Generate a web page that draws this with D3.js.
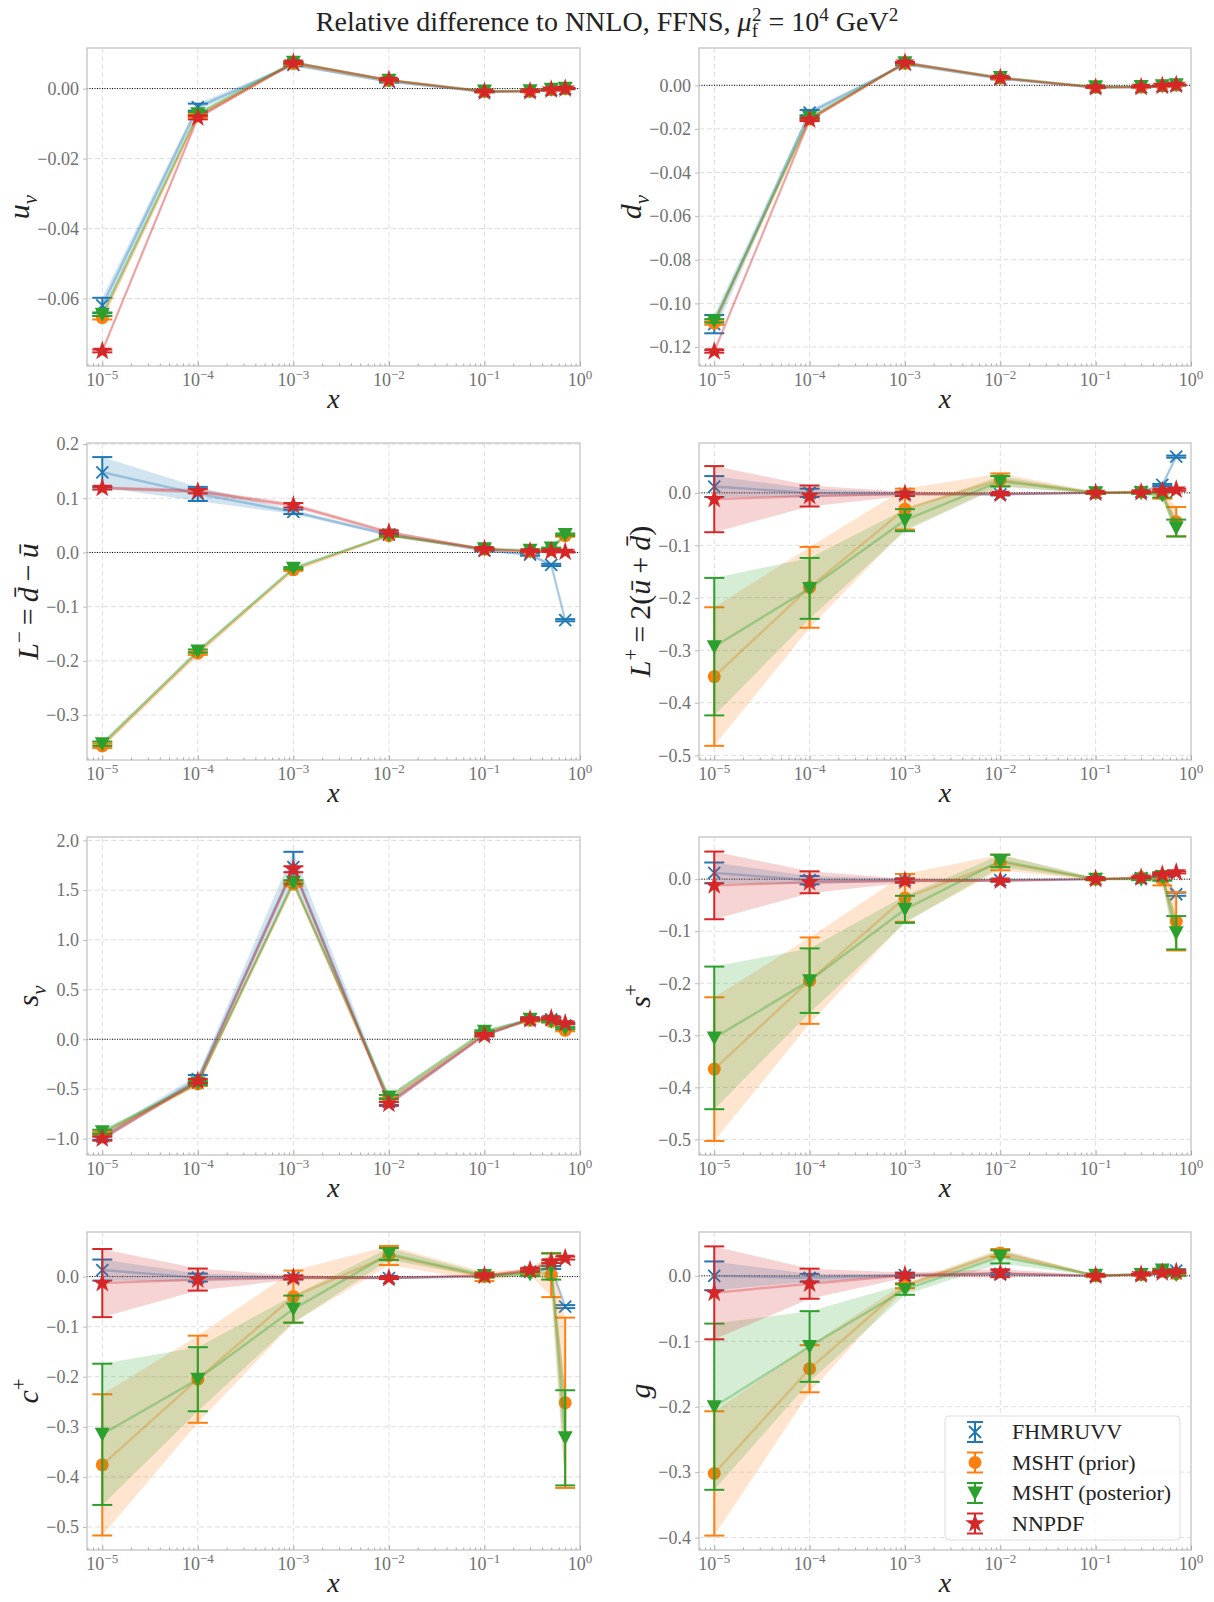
<!DOCTYPE html>
<html>
<head>
<meta charset="utf-8">
<script src="https://cdn.jsdelivr.net/npm/d3@7"></script>
<style>
body { margin: 0; background: #fff; }
svg text { font-family: "Liberation Serif", "DejaVu Serif", serif; }
</style>
</head>
<body>
<script>
// x grid shared by all panels
const xVals = [1e-5, 1e-4, 1e-3, 1e-2, 0.1, 0.3, 0.5, 0.7];
const xMajor = [1e-5, 1e-4, 1e-3, 1e-2, 1e-1, 1];
const xExp = ["−5", "−4", "−3", "−2", "−1", "0"];

const seriesNames = ["FHMRUVV", "MSHT (prior)", "MSHT (posterior)", "NNPDF"];
const seriesColors = ["#1f77b4", "#ff7f0e", "#2ca02c", "#d62728"];
const seriesMarkers = ["x", "o", "v", "*"];

// u_v
const uvFhm = [-0.0620, -0.0053, 0.0068, 0.0020, -0.0009, -0.0008, -0.0004, 0.0000];
const uvFhmErr = [0.0022, 0.0010, 0.0004, 0.0003, 0.0002, 0.0002, 0.0002, 0.0002];
const uvPrior = [-0.0655, -0.0078, 0.0071, 0.0023, -0.0008, -0.0008, -0.0003, 0.0000];
const uvPriorErr = [0.0005, 0.0005, 0.0003, 0.0002, 0.0001, 0.0001, 0.0001, 0.0001];
const uvPost = [-0.0645, -0.0072, 0.0075, 0.0024, -0.0007, -0.0006, -0.0002, 0.0001];
const uvPostErr = [0.0005, 0.0005, 0.0003, 0.0002, 0.0001, 0.0001, 0.0001, 0.0001];
const uvNnpdf = [-0.0750, -0.0083, 0.0074, 0.0025, -0.0009, -0.0008, -0.0003, 0.0000];
const uvNnpdfErr = [0.0004, 0.0005, 0.0003, 0.0002, 0.0001, 0.0001, 0.0001, 0.0001];

// d_v
const dvFhm = [-0.1095, -0.0125, 0.0097, 0.0030, -0.0010, -0.0008, -0.0004, 0.0000];
const dvFhmErr = [0.0042, 0.0012, 0.0005, 0.0003, 0.0002, 0.0002, 0.0002, 0.0002];
const dvPrior = [-0.1090, -0.0155, 0.0100, 0.0033, -0.0009, -0.0008, -0.0003, 0.0001];
const dvPriorErr = [0.0008, 0.0006, 0.0003, 0.0002, 0.0001, 0.0001, 0.0001, 0.0001];
const dvPost = [-0.1080, -0.0148, 0.0103, 0.0036, -0.0007, -0.0006, -0.0002, 0.0002];
const dvPostErr = [0.0008, 0.0006, 0.0003, 0.0002, 0.0001, 0.0001, 0.0001, 0.0001];
const dvNnpdf = [-0.1220, -0.0158, 0.0104, 0.0034, -0.0010, -0.0008, -0.0003, 0.0002];
const dvNnpdfErr = [0.0006, 0.0006, 0.0003, 0.0002, 0.0001, 0.0001, 0.0001, 0.0001];

// L^- = dbar - ubar
const lmFhm = [0.148, 0.108, 0.075, 0.033, 0.004, -0.004, -0.023, -0.125];
const lmFhmErr = [0.028, 0.013, 0.004, 0.003, 0.002, 0.002, 0.002, 0.002];
const lmPrior = [-0.357, -0.186, -0.032, 0.031, 0.006, 0.002, 0.005, 0.031];
const lmPriorErr = [0.004, 0.003, 0.002, 0.002, 0.001, 0.001, 0.001, 0.002];
const lmPost = [-0.353, -0.182, -0.029, 0.032, 0.007, 0.004, 0.008, 0.033];
const lmPostErr = [0.004, 0.003, 0.002, 0.002, 0.001, 0.001, 0.001, 0.002];
const lmNnpdf = [0.119, 0.113, 0.087, 0.037, 0.006, 0.002, 0.002, 0.001];
const lmNnpdfErr = [0.003, 0.004, 0.004, 0.003, 0.002, 0.001, 0.001, 0.001];

// L^+ = 2(ubar + dbar)
const lpFhm = [0.012, 0.000, -0.002, -0.003, 0.000, 0.002, 0.015, 0.069];
const lpFhmErr = [0.020, 0.008, 0.003, 0.002, 0.001, 0.001, 0.002, 0.002];
const lpPrior = [-0.350, -0.180, -0.031, 0.025, 0.000, 0.002, -0.002, -0.055];
const lpPriorErr = [0.132, 0.077, 0.039, 0.012, 0.002, 0.002, 0.009, 0.028];
const lpPost = [-0.293, -0.182, -0.052, 0.022, 0.000, 0.000, -0.004, -0.067];
const lpPostErr = [0.131, 0.058, 0.021, 0.010, 0.002, 0.002, 0.005, 0.016];
const lpNnpdf = [-0.012, -0.006, -0.002, -0.002, 0.000, 0.001, 0.004, 0.006];
const lpNnpdfErr = [0.063, 0.020, 0.004, 0.002, 0.001, 0.001, 0.002, 0.002];

// s_v
const svFhm = [-0.98, -0.40, 1.73, -0.63, 0.05, 0.20, 0.20, 0.14];
const svFhmErr = [0.03, 0.04, 0.155, 0.03, 0.02, 0.02, 0.02, 0.02];
const svPrior = [-0.95, -0.45, 1.56, -0.61, 0.06, 0.19, 0.18, 0.09];
const svPriorErr = [0.02, 0.02, 0.02, 0.02, 0.01, 0.01, 0.01, 0.01];
const svPost = [-0.93, -0.44, 1.58, -0.58, 0.08, 0.20, 0.18, 0.11];
const svPostErr = [0.02, 0.02, 0.02, 0.02, 0.01, 0.01, 0.01, 0.01];
const svNnpdf = [-1.00, -0.42, 1.71, -0.65, 0.04, 0.20, 0.21, 0.16];
const svNnpdfErr = [0.02, 0.02, 0.03, 0.02, 0.01, 0.01, 0.01, 0.01];

// s^+
const spFhm = [0.012, -0.002, -0.002, -0.002, 0.000, 0.002, 0.006, -0.029];
const spFhmErr = [0.020, 0.008, 0.003, 0.002, 0.001, 0.001, 0.002, 0.003];
const spPrior = [-0.365, -0.195, -0.036, 0.032, 0.000, 0.003, 0.000, -0.081];
const spPriorErr = [0.138, 0.083, 0.046, 0.015, 0.002, 0.002, 0.012, 0.056];
const spPost = [-0.305, -0.195, -0.058, 0.035, 0.000, 0.000, 0.005, -0.103];
const spPostErr = [0.137, 0.062, 0.026, 0.012, 0.002, 0.002, 0.008, 0.032];
const spNnpdf = [-0.012, -0.006, -0.003, -0.003, 0.000, 0.003, 0.009, 0.013];
const spNnpdfErr = [0.065, 0.021, 0.004, 0.002, 0.001, 0.001, 0.002, 0.002];

// c^+
const cpFhm = [0.013, -0.002, -0.002, -0.003, 0.000, 0.010, 0.018, -0.060];
const cpFhmErr = [0.021, 0.008, 0.003, 0.002, 0.001, 0.002, 0.003, 0.003];
const cpPrior = [-0.376, -0.205, -0.040, 0.042, 0.000, 0.010, 0.003, -0.252];
const cpPriorErr = [0.141, 0.087, 0.052, 0.019, 0.009, 0.006, 0.044, 0.170];
const cpPost = [-0.315, -0.205, -0.065, 0.045, 0.002, 0.005, 0.020, -0.322];
const cpPostErr = [0.141, 0.064, 0.027, 0.012, 0.004, 0.004, 0.026, 0.095];
const cpNnpdf = [-0.013, -0.006, -0.002, -0.003, 0.002, 0.013, 0.030, 0.037];
const cpNnpdfErr = [0.068, 0.022, 0.004, 0.002, 0.002, 0.003, 0.003, 0.003];

// g
const gFhm = [0.000, -0.003, 0.001, 0.003, 0.000, 0.002, 0.006, 0.008];
const gFhmErr = [0.022, 0.006, 0.002, 0.002, 0.001, 0.001, 0.001, 0.002];
const gPrior = [-0.302, -0.142, -0.015, 0.035, 0.000, 0.002, 0.007, 0.003];
const gPriorErr = [0.095, 0.036, 0.004, 0.006, 0.001, 0.001, 0.002, 0.002];
const gPost = [-0.200, -0.108, -0.021, 0.029, 0.001, 0.002, 0.009, 0.002];
const gPostErr = [0.127, 0.054, 0.008, 0.010, 0.001, 0.001, 0.002, 0.002];
const gNnpdf = [-0.026, -0.012, 0.001, 0.004, 0.000, 0.002, 0.005, 0.006];
const gNnpdfErr = [0.071, 0.023, 0.004, 0.006, 0.001, 0.001, 0.002, 0.002];

// y tick values per panel
const uvTicks = [0, -0.02, -0.04, -0.06];
const dvTicks = [0, -0.02, -0.04, -0.06, -0.08, -0.10, -0.12];
const lmTicks = [0.2, 0.1, 0, -0.1, -0.2, -0.3];
const lpTicks = [0, -0.1, -0.2, -0.3, -0.4, -0.5];
const svTicks = [2, 1.5, 1, 0.5, 0, -0.5, -1];
const spTicks = [0, -0.1, -0.2, -0.3, -0.4, -0.5];
const cpTicks = [0, -0.1, -0.2, -0.3, -0.4, -0.5];
const gTicks = [0, -0.1, -0.2, -0.3, -0.4];

// y labels: [text, kind]
const uvLabel = [["u", "i"], ["v", "isub"]];
const dvLabel = [["d", "i"], ["v", "isub"]];
const lmLabel = [["L", "i"], ["−", "sup"], ["\u2009=\u2009", "r"], ["d\u0304", "i"], ["\u2009−\u2009", "r"], ["u\u0304", "i"]];
const lpLabel = [["L", "i"], ["+", "sup"], ["\u2009=\u20092(", "r"], ["u\u0304", "i"], ["\u2009+\u2009", "r"], ["d\u0304", "i"], [")", "r"]];
const svLabel = [["s", "i"], ["v", "isub"]];
const spLabel = [["s", "i"], ["+", "sup"]];
const cpLabel = [["c", "i"], ["+", "sup"]];
const gLabel = [["g", "i"]];

const panels = [
    {label: uvLabel, vals: [uvFhm, uvPrior, uvPost, uvNnpdf], errs: [uvFhmErr, uvPriorErr, uvPostErr, uvNnpdfErr], lim: [-0.0793, 0.0116], ticks: uvTicks, fmt: ".2f"},
    {label: dvLabel, vals: [dvFhm, dvPrior, dvPost, dvNnpdf], errs: [dvFhmErr, dvPriorErr, dvPostErr, dvNnpdfErr], lim: [-0.1287, 0.0171], ticks: dvTicks, fmt: ".2f"},
    {label: lmLabel, vals: [lmFhm, lmPrior, lmPost, lmNnpdf], errs: [lmFhmErr, lmPriorErr, lmPostErr, lmNnpdfErr], lim: [-0.383, 0.202], ticks: lmTicks, fmt: ".1f"},
    {label: lpLabel, vals: [lpFhm, lpPrior, lpPost, lpNnpdf], errs: [lpFhmErr, lpPriorErr, lpPostErr, lpNnpdfErr], lim: [-0.509, 0.095], ticks: lpTicks, fmt: ".1f"},
    {label: svLabel, vals: [svFhm, svPrior, svPost, svNnpdf], errs: [svFhmErr, svPriorErr, svPostErr, svNnpdfErr], lim: [-1.164, 2.034], ticks: svTicks, fmt: ".1f"},
    {label: spLabel, vals: [spFhm, spPrior, spPost, spNnpdf], errs: [spFhmErr, spPriorErr, spPostErr, spNnpdfErr], lim: [-0.530, 0.081], ticks: spTicks, fmt: ".1f"},
    {label: cpLabel, vals: [cpFhm, cpPrior, cpPost, cpNnpdf], errs: [cpFhmErr, cpPriorErr, cpPostErr, cpNnpdfErr], lim: [-0.546, 0.089], ticks: cpTicks, fmt: ".1f"},
    {label: gLabel, vals: [gFhm, gPrior, gPost, gNnpdf], errs: [gFhmErr, gPriorErr, gPostErr, gNnpdfErr], lim: [-0.419, 0.067], ticks: gTicks, fmt: ".1f"}
];

const W = 1214, H = 1602;
const colX = [[87, 580], [699, 1191]];
const rowY = [[48, 366], [443, 760], [837, 1155], [1232, 1550]];
const xLim = [Math.pow(10, -5.16), 1];
const serif = "'Liberation Serif', 'DejaVu Serif', serif";
const tickColor = "#707070";

const svg = d3.select("body").append("svg")
    .attr("width", W)
    .attr("height", H)

// writes text parts with italic / sub / sup into a text element
function richText(sel, parts, fs) {
    let shift = 0;
    parts.forEach(([t, kind]) => {
        const ts = sel.append("tspan").text(t);
        let target = 0, size = fs;
        if (kind.includes("sub")) { target = 0.25 * fs; size = 0.7 * fs; }
        if (kind.includes("sup")) { target = -0.4 * fs; size = 0.7 * fs; }
        ts.attr("dy", target - shift).attr("font-size", size);
        if (kind.startsWith("i")) ts.attr("font-style", "italic");
        shift = target;
    });
}

function drawMarker(sel, type, cx, cy, color) {
    if (type == "x") {
        sel.append("path")
            .attr("d", `M${cx-6},${cy-6}L${cx+6},${cy+6}M${cx-6},${cy+6}L${cx+6},${cy-6}`)
            .attr("stroke", color).attr("stroke-width", 1.8).attr("fill", "none");
    } else if (type == "o") {
        sel.append("circle").attr("cx", cx).attr("cy", cy).attr("r", 6.5).attr("fill", color);
    } else if (type == "v") {
        sel.append("path")
            .attr("d", `M${cx-7.5},${cy-6.5}L${cx+7.5},${cy-6.5}L${cx},${cy+7.5}Z`)
            .attr("fill", color);
    } else {
        sel.append("path")
            .attr("d", d3.symbol().type(d3.symbolStar).size(120)())
            .attr("transform", `translate(${cx},${cy})`)
            .attr("fill", color);
    }
}

// title
const title = svg.append("text")
    .attr("x", 607).attr("y", 31)
    .attr("text-anchor", "middle")
    .attr("fill", "#222")
    .attr("font-size", 28);
title.append("tspan").text("Relative difference to NNLO, FFNS, ");
title.append("tspan").text("μ").attr("font-style", "italic");
title.append("tspan").text("f").attr("font-size", 19).attr("dy", 6);
title.append("tspan").text("2").attr("font-size", 19).attr("dx", -6).attr("dy", -16);
title.append("tspan").text(" = 10").attr("dy", 10);
title.append("tspan").text("4").attr("font-size", 19).attr("dy", -10);
title.append("tspan").text(" GeV").attr("dy", 10);
title.append("tspan").text("2").attr("font-size", 19).attr("dy", -10);

panels.forEach((p, i) => {
    const [x0, x1] = colX[i % 2];
    const [y0, y1] = rowY[Math.floor(i / 2)];
    const x = d3.scaleLog().domain(xLim).range([x0, x1]);
    const y = d3.scaleLinear().domain(p.lim).range([y1, y0]);
    const g = svg.append("g");

    // grid
    g.selectAll(".gx").data(xMajor.filter(d => d < 1)).enter().append("line")
        .attr("x1", d => x(d)).attr("x2", d => x(d))
        .attr("y1", y0).attr("y2", y1)
        .attr("stroke", "#dedede").attr("stroke-width", 1).attr("stroke-dasharray", "5,3");
    g.selectAll(".gy").data(p.ticks).enter().append("line")
        .attr("x1", x0).attr("x2", x1)
        .attr("y1", d => y(d)).attr("y2", d => y(d))
        .attr("stroke", "#dedede").attr("stroke-width", 1).attr("stroke-dasharray", "5,3");

    // zero line
    g.append("line")
        .attr("x1", x0).attr("x2", x1).attr("y1", y(0)).attr("y2", y(0))
        .attr("stroke", "#000").attr("stroke-width", 1).attr("stroke-dasharray", "1,1.5");

    // series
    p.vals.forEach((vals, s) => {
        const col = seriesColors[s];
        const pts = xVals.map((xv, k) => ({x: xv, v: vals[k], e: p.errs[s][k]}));
        g.append("path").datum(pts)
            .attr("d", d3.area().x(d => x(d.x)).y0(d => y(d.v - d.e)).y1(d => y(d.v + d.e)))
            .attr("fill", col).attr("fill-opacity", 0.2);
        g.append("path").datum(pts)
            .attr("d", d3.line().x(d => x(d.x)).y(d => y(d.v)))
            .attr("fill", "none").attr("stroke", col).attr("stroke-opacity", 0.33).attr("stroke-width", 2.4);
        const bars = g.append("g").attr("stroke", col).attr("stroke-width", 2);
        pts.forEach(d => {
            const cx = x(d.x), ya = y(d.v + d.e), yb = y(d.v - d.e);
            bars.append("line").attr("x1", cx).attr("x2", cx).attr("y1", ya).attr("y2", yb);
            bars.append("line").attr("x1", cx - 10).attr("x2", cx + 10).attr("y1", ya).attr("y2", ya);
            bars.append("line").attr("x1", cx - 10).attr("x2", cx + 10).attr("y1", yb).attr("y2", yb);
        });
        const marks = g.append("g");
        pts.forEach(d => drawMarker(marks, seriesMarkers[s], x(d.x), y(d.v), col));
    });

    // frame
    g.append("rect")
        .attr("x", x0).attr("y", y0).attr("width", x1 - x0).attr("height", y1 - y0)
        .attr("fill", "none").attr("stroke", "#cccccc").attr("stroke-width", 1.5);

    // y axis, ticks outward
    const yAxis = g.append("g")
        .attr("transform", `translate(${x0},0)`)
        .call(d3.axisLeft(y).tickValues(p.ticks).tickFormat(d3.format(p.fmt)).tickSize(4).tickPadding(4));
    yAxis.select(".domain").remove();
    yAxis.attr("font-family", null);
    yAxis.selectAll("line").attr("stroke", "#bbbbbb");
    yAxis.selectAll("text").attr("fill", tickColor).attr("font-size", 18)
        .style("font-family", serif);

    // x axis, major + minor ticks pointing inward
    const minor = [];
    for (let e = -6; e < 0; e++) {
        for (let m = 2; m < 10; m++) {
            const v = m * Math.pow(10, e);
            if (v > xLim[0] && v < xLim[1]) minor.push(v);
        }
    }
    const xMinor = g.append("g").attr("transform", `translate(0,${y1})`)
        .call(d3.axisBottom(x).tickValues(minor).tickFormat("").tickSize(-2.5));
    xMinor.select(".domain").remove();
    xMinor.selectAll("line").attr("stroke", "#aaaaaa");
    const xAxis = g.append("g").attr("transform", `translate(0,${y1})`)
        .call(d3.axisBottom(x).tickValues(xMajor).tickFormat("").tickSize(-4.5));
    xAxis.select(".domain").remove();
    xAxis.selectAll("line").attr("stroke", "#aaaaaa");
    xMajor.forEach((v, k) => {
        const t = g.append("text")
            .attr("x", x(v)).attr("y", y1 + 20)
            .attr("text-anchor", "middle")
            .attr("fill", tickColor).attr("font-size", 18)
            .style("font-family", serif);
        t.append("tspan").text("10");
        t.append("tspan").text(xExp[k]).attr("font-size", 13).attr("dy", -7);
    });

    // x label
    g.append("text")
        .attr("x", (x0 + x1) / 2).attr("y", y1 + 42)
        .attr("text-anchor", "middle")
        .attr("font-size", 28).attr("font-style", "italic").attr("fill", "#222")
        .text("x");

    // y label, placed left of tick labels
    const tickW = d3.max(yAxis.selectAll("text").nodes(), n => n.getComputedTextLength());
    const lx = x0 - 8 - tickW - 8;
    const yl = g.append("text")
        .attr("transform", `translate(${lx},${(y0 + y1) / 2}) rotate(-90)`)
        .attr("text-anchor", "middle")
        .attr("font-size", 30).attr("fill", "#222");
    richText(yl, p.label, 30);
});

// legend in the last panel
const legend = svg.append("g");
legend.append("rect")
    .attr("x", 945).attr("y", 1416).attr("width", 235).attr("height", 124).attr("rx", 4)
    .attr("fill", "#fff").attr("fill-opacity", 0.8)
    .attr("stroke", "#dddddd").attr("stroke-width", 1);
seriesNames.forEach((name, s) => {
    const ly = 1432 + s * 30.5;
    const col = seriesColors[s];
    const lg = legend.append("g").attr("stroke", col).attr("stroke-width", 2);
    lg.append("line").attr("x1", 975).attr("x2", 975).attr("y1", ly - 10).attr("y2", ly + 10);
    lg.append("line").attr("x1", 967).attr("x2", 983).attr("y1", ly - 10).attr("y2", ly - 10);
    lg.append("line").attr("x1", 967).attr("x2", 983).attr("y1", ly + 10).attr("y2", ly + 10);
    drawMarker(legend, seriesMarkers[s], 975, ly, col);
    legend.append("text")
        .attr("x", 1012).attr("y", ly + 7)
        .attr("font-size", 22).attr("fill", "#222")
        .text(name);
});
</script>
</body>
</html>
